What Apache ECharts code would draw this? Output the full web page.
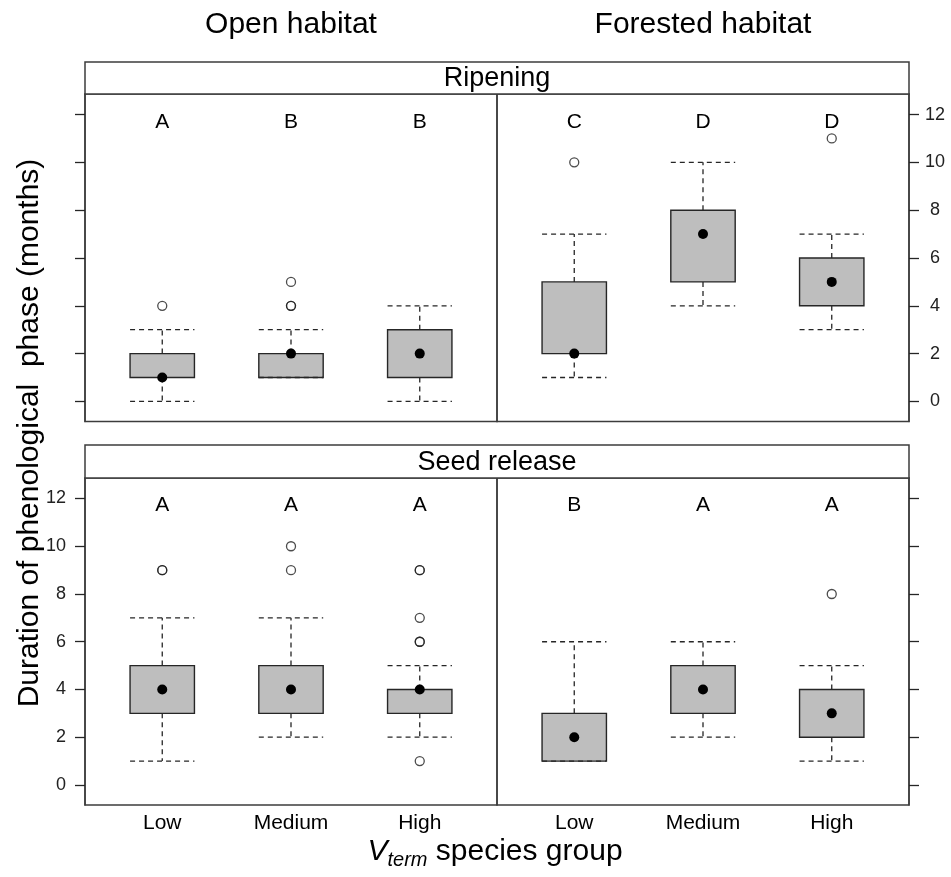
<!DOCTYPE html>
<html>
<head>
<meta charset="utf-8">
<title>Duration of phenological phases by Vterm species group</title>
<script src="https://cdn.jsdelivr.net/npm/echarts@6/dist/echarts.min.js"></script>
<style>
  html, body { margin: 0; padding: 0; background: #ffffff; }
  #chart { width: 951px; height: 877px; }
</style>
</head>
<body>
<div id="chart"></div>
<script>
// Species groups along the x axis (positions 1, 2, 3)
const groups = ['Low', 'Medium', 'High'];
const yTicks = [0, 2, 4, 6, 8, 10, 12];

// Ripening, open habitat: whisker low, Q1, median, Q3, whisker high
const ripOpenLower = [0, 1, 0];
const ripOpenQ1 = [1, 1, 1];
const ripOpenMedian = [1, 2, 2];
const ripOpenQ3 = [2, 2, 3];
const ripOpenUpper = [3, 3, 4];
const ripOpenOutliers = [[4], [4, 4, 5], []];
const ripOpenLetters = ['A', 'B', 'B'];

// Ripening, forested habitat
const ripForLower = [1, 4, 3];
const ripForQ1 = [2, 5, 4];
const ripForMedian = [2, 7, 5];
const ripForQ3 = [5, 8, 6];
const ripForUpper = [7, 10, 7];
const ripForOutliers = [[10], [], [11]];
const ripForLetters = ['C', 'D', 'D'];

// Seed release, open habitat
const seedOpenLower = [1, 2, 2];
const seedOpenQ1 = [3, 3, 3];
const seedOpenMedian = [4, 4, 4];
const seedOpenQ3 = [5, 5, 4];
const seedOpenUpper = [7, 7, 5];
const seedOpenOutliers = [[9, 9], [9, 10], [1, 6, 6, 7, 9, 9]];
const seedOpenLetters = ['A', 'A', 'A'];

// Seed release, forested habitat
const seedForLower = [1, 2, 1];
const seedForQ1 = [1, 3, 2];
const seedForMedian = [2, 4, 3];
const seedForQ3 = [3, 5, 4];
const seedForUpper = [6, 6, 5];
const seedForOutliers = [[], [], [8]];
const seedForLetters = ['B', 'A', 'A'];

// ---- layout and style ----
const FONT = '"Liberation Sans", Arial, Helvetica, sans-serif';
const INK = '#262626';
const FRAME = '#3c3c3c';
const BOX_FILL = '#bebebe';
const BOX_W = 0.5;          // box width in x units
const LETTER_Y = 11.7;      // height of the group letters
const Y_MIN = -0.84, Y_MAX = 12.86;
const X_MIN = 0.4, X_MAX = 3.6;

const L = 85, MID = 497, R = 909;
const rows = [
  { strip: 62, top: 94, bottom: 421.5, title: 'Ripening' },
  { strip: 445, top: 478, bottom: 805, title: 'Seed release' }
];

function boxRows(lower, q1, med, q3, upper) {
  return groups.map((g, i) => [i + 1, lower[i], q1[i], med[i], q3[i], upper[i]]);
}
function outlierPoints(lists) {
  const pts = [];
  lists.forEach((vals, i) => vals.forEach(v => pts.push([i + 1, v])));
  return pts;
}
function letterRows(letters) {
  return letters.map((s, i) => [i + 1, LETTER_Y, s]);
}

const panels = [
  { row: 0, col: 0, box: boxRows(ripOpenLower, ripOpenQ1, ripOpenMedian, ripOpenQ3, ripOpenUpper),
    out: outlierPoints(ripOpenOutliers), letters: letterRows(ripOpenLetters) },
  { row: 0, col: 1, box: boxRows(ripForLower, ripForQ1, ripForMedian, ripForQ3, ripForUpper),
    out: outlierPoints(ripForOutliers), letters: letterRows(ripForLetters) },
  { row: 1, col: 0, box: boxRows(seedOpenLower, seedOpenQ1, seedOpenMedian, seedOpenQ3, seedOpenUpper),
    out: outlierPoints(seedOpenOutliers), letters: letterRows(seedOpenLetters) },
  { row: 1, col: 1, box: boxRows(seedForLower, seedForQ1, seedForMedian, seedForQ3, seedForUpper),
    out: outlierPoints(seedForOutliers), letters: letterRows(seedForLetters) }
];

function renderBox(params, api) {
  const x = api.value(0);
  const lo = api.coord([x, api.value(1)]);
  const q1 = api.coord([x, api.value(2)]);
  const md = api.coord([x, api.value(3)]);
  const q3 = api.coord([x, api.value(4)]);
  const hi = api.coord([x, api.value(5)]);
  const w = api.size([BOX_W, 0])[0];
  const cx = md[0];
  const dash = { stroke: INK, lineWidth: 1.3, lineDash: [5, 4], fill: null };
  return {
    type: 'group',
    children: [
      { type: 'line', shape: { x1: cx, y1: q3[1], x2: cx, y2: hi[1] }, style: dash },
      { type: 'line', shape: { x1: cx, y1: q1[1], x2: cx, y2: lo[1] }, style: dash },
      { type: 'rect', shape: { x: cx - w / 2, y: q3[1], width: w, height: q1[1] - q3[1] },
        style: { fill: BOX_FILL, stroke: INK, lineWidth: 1.4 } },
      { type: 'line', shape: { x1: cx - w / 2, y1: hi[1], x2: cx + w / 2, y2: hi[1] }, style: dash },
      { type: 'line', shape: { x1: cx - w / 2, y1: lo[1], x2: cx + w / 2, y2: lo[1] }, style: dash },
      { type: 'circle', shape: { cx: cx, cy: md[1], r: 5 }, style: { fill: '#000000' } }
    ]
  };
}

function renderLetter(params, api) {
  const p = api.coord([api.value(0), api.value(1)]);
  return {
    type: 'text',
    x: p[0], y: p[1],
    style: {
      text: String(api.value(2)),
      font: '21px ' + FONT,
      fill: '#000000',
      align: 'center', verticalAlign: 'middle',
      textAlign: 'center', textVerticalAlign: 'middle'
    }
  };
}

const grids = [], xAxes = [], yAxes = [], series = [];
panels.forEach((p, i) => {
  const row = rows[p.row];
  const left = p.col === 0 ? L : MID;
  const width = p.col === 0 ? MID - L : R - MID;
  grids.push({
    left: left, top: row.top, width: width, height: row.bottom - row.top,
    show: true, borderColor: FRAME, borderWidth: 1.5, backgroundColor: 'transparent',
    containLabel: false, outerBoundsMode: 'none'
  });
  const bottomRow = p.row === 1;
  xAxes.push({
    gridIndex: i, type: 'value', min: X_MIN, max: X_MAX, position: 'bottom',
    axisLine: { show: false },
    axisTick: { show: false },
    splitLine: { show: false },
    axisLabel: {
      show: bottomRow, customValues: [1, 2, 3], margin: 8,
      formatter: v => groups[Math.round(v) - 1] || '',
      fontSize: 21, fontFamily: FONT, color: '#000000'
    }
  });
  // labels alternate: right side on the top row, left side on the bottom row
  const side = p.col === 0 ? 'left' : 'right';
  const showLabels = (p.row === 0 && p.col === 1) || (p.row === 1 && p.col === 0);
  yAxes.push({
    gridIndex: i, type: 'value', min: Y_MIN, max: Y_MAX, position: side,
    axisLine: { show: true, lineStyle: { color: FRAME, width: 1.5 } },
    axisTick: { show: true, customValues: yTicks, length: 10, inside: false,
      lineStyle: { color: INK, width: 1.3 } },
    splitLine: { show: false },
    axisLabel: {
      show: showLabels, customValues: yTicks,
      margin: side === 'left' ? 19 : 26,
      align: side === 'left' ? 'right' : 'center',
      fontSize: 18, fontFamily: FONT, color: '#222222'
    }
  });
  series.push({
    type: 'custom', xAxisIndex: i, yAxisIndex: i,
    renderItem: renderBox, data: p.box, silent: true, clip: false, z: 2
  });
  series.push({
    type: 'scatter', xAxisIndex: i, yAxisIndex: i, data: p.out,
    symbol: 'circle', symbolSize: 9, silent: true, z: 3,
    itemStyle: { color: 'rgba(0,0,0,0)', borderColor: '#1f1f1f', borderWidth: 1.3 }
  });
  series.push({
    type: 'custom', xAxisIndex: i, yAxisIndex: i,
    renderItem: renderLetter, data: p.letters, silent: true, clip: false, z: 1
  });
});

function txt(text, x, y, size, extra) {
  return Object.assign({
    type: 'text', x: x, y: y, silent: true,
    style: {
      text: text, font: size + 'px ' + FONT, fill: '#000000',
      align: 'center', verticalAlign: 'middle',
      textAlign: 'center', textVerticalAlign: 'middle'
    }
  }, extra || {});
}

const graphics = [];
rows.forEach(r => {
  graphics.push({
    type: 'rect', silent: true, z: 10,
    shape: { x: L, y: r.strip, width: R - L, height: r.top - r.strip },
    style: { fill: '#ffffff', stroke: FRAME, lineWidth: 1.5 }
  });
  graphics.push(txt(r.title, (L + R) / 2, (r.strip + r.top) / 2 + 1, 27, { z: 11 }));
});
graphics.push(txt('Open habitat', (L + MID) / 2, 25, 30));
graphics.push(txt('Forested habitat', (MID + R) / 2, 25, 30));
graphics.push(txt('Duration of phenological  phase (months)', 30, 433, 30, { rotation: Math.PI / 2 }));
graphics.push({
  type: 'text', x: 495, y: 852, silent: true,
  style: {
    text: '{v|V}{s|term}{n| species group}',
    align: 'center', verticalAlign: 'middle',
    textAlign: 'center', textVerticalAlign: 'middle',
    fill: '#000000',
    rich: {
      v: { font: 'italic 30px ' + FONT, fill: '#000000' },
      s: { font: 'italic 20px ' + FONT, fill: '#000000', padding: [17, 0, 0, 0] },
      n: { font: '30px ' + FONT, fill: '#000000' }
    }
  }
});

const chart = echarts.init(document.getElementById('chart'), null, { renderer: 'canvas' });
chart.setOption({
  animation: false,
  backgroundColor: '#ffffff',
  grid: grids,
  xAxis: xAxes,
  yAxis: yAxes,
  series: series,
  graphic: graphics
});
</script>
</body>
</html>
